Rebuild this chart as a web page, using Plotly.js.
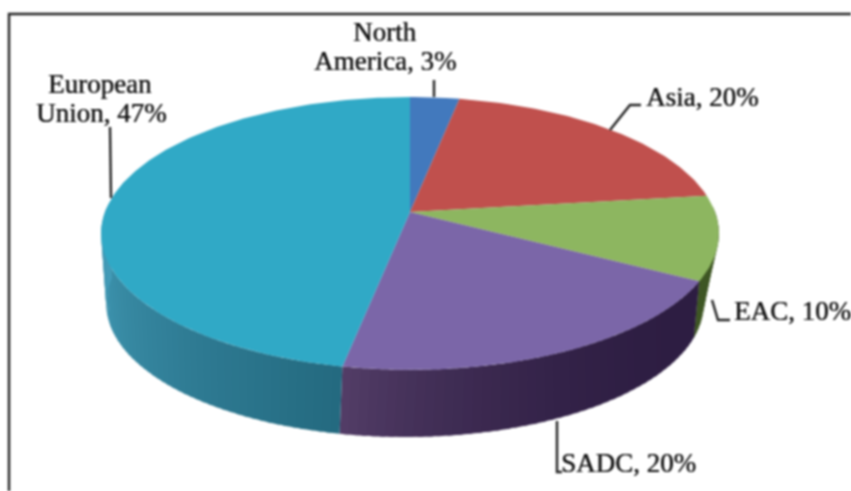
<!DOCTYPE html>
<html>
<head>
<meta charset="utf-8">
<script src="https://cdn.plot.ly/plotly-3.0.1.min.js"></script>
<style>
html,body{margin:0;padding:0;background:#fff;overflow:hidden}
#chart{width:851px;height:491px;filter:blur(0.9px)}
</style>
</head>
<body>
<div id="chart"></div>
<script>
var categories = ["North America", "Asia", "EAC", "SADC", "European Union"];
var shares = [3, 20, 10, 20, 47];
var topColors = ["#4279bd", "#c0504d", "#8db660", "#7b66a8", "#30a9c6"];
// side wall shade: [start, end] colour of each slice along the sweep, and how fast it moves
var sideColors = [
  [[38,72,112],[38,72,112]],
  [[115,48,46],[115,48,46]],
  [[62,86,36],[62,86,36]],
  [[45,29,66],[84,62,104]],
  [[36,106,128],[68,158,186]]
];
var sideCurve = [1, 1, 1, 2.6, 1];
var labelLines = [["North", "America, 3%"], ["Asia, 20%"], ["EAC, 10%"], ["SADC, 20%"], ["European", "Union, 47%"]];

// perspective view of the disc
var K = 0.1575;
var TOP = {cx: 410, cy: 212, a: 305, b: 133, warp: 0};
var BOT = {cx: 405, cy: 282.7, a: 295, b: 130, warp: 8};
function project(face, deg) {
  var d = deg < 180 ? deg - face.warp * (180 - deg) / 90 : deg;
  var t = d * Math.PI / 180, u = Math.sin(t), v = -Math.cos(t), w = 1 - K * v;
  return [face.cx + face.a * u / w, face.cy + face.b * v / w];
}
function mix(c, f) {
  return "rgb(" + c[0].map(function (s, i) { return Math.round(s + (c[1][i] - s) * f); }).join(",") + ")";
}

var traces = [];
var total = shares.reduce(function (s, v) { return s + v; }, 0);
var start = 0, spans = [];
shares.forEach(function (v) { spans.push([start, start + v / total * 360]); start += v / total * 360; });

// side walls, back to front
var STEP = 1.5;
spans.forEach(function (sp, i) {
  var from = Math.max(sp[0], 88), to = Math.min(sp[1], 272);
  if (to <= from) return;
  for (var d = from; d < to; d += STEP) {
    var e = Math.min(d + STEP + 0.8, to), xs = [], ys = [], q;
    q = project(TOP, d); xs.push(q[0]); ys.push(q[1]);
    q = project(TOP, e); xs.push(q[0]); ys.push(q[1]);
    q = project(BOT, e); xs.push(q[0]); ys.push(q[1]);
    q = project(BOT, d); xs.push(q[0]); ys.push(q[1]);
    traces.push({type: "scatter", mode: "lines", x: xs, y: ys, fill: "toself",
      fillcolor: mix(sideColors[i], Math.pow((d - from) / (to - from), sideCurve[i])), line: {width: 0},
      hoverinfo: "skip", showlegend: false});
  }
});

// top faces
spans.forEach(function (sp, i) {
  var xs = [TOP.cx], ys = [TOP.cy], n = Math.ceil(sp[1] - sp[0]);
  for (var j = 0; j <= n; j++) {
    var q = project(TOP, sp[0] + (sp[1] - sp[0]) * j / n);
    xs.push(q[0]); ys.push(q[1]);
  }
  xs.push(TOP.cx); ys.push(TOP.cy);
  traces.push({type: "scatter", mode: "lines", x: xs, y: ys, fill: "toself", name: categories[i],
    fillcolor: topColors[i], line: {width: 0}, text: labelLines[i].join(" "),
    hoverinfo: "text", showlegend: false});
});

function leader(pts) {
  return {type: "path", xref: "x", yref: "y", layer: "above",
    path: pts.map(function (p, i) { return (i ? "L" : "M") + p[0] + "," + p[1]; }).join(" "),
    line: {color: "#222", width: 2.4}};
}
function label(i, line, x, y) {
  return {text: labelLines[i][line], x: x, y: y, xref: "x", yref: "y", showarrow: false, align: "center",
    font: {family: "Liberation Serif", size: 27, color: "#111", shadow: "0.4px 0 0.6px #222"},
    xanchor: "center", yanchor: "middle"};
}

Plotly.newPlot("chart", traces, {
  width: 851, height: 491, margin: {l: 0, r: 0, t: 0, b: 0},
  paper_bgcolor: "#fff", plot_bgcolor: "#fff", showlegend: false,
  xaxis: {range: [0, 851], visible: false, fixedrange: true},
  yaxis: {range: [491, 0], visible: false, fixedrange: true},
  shapes: [
    leader([[9, 491], [9, 14], [851, 14]]),
    leader([[110, 127], [111, 198]]),
    leader([[434, 80], [434, 97]]),
    leader([[610, 130], [630, 105], [641, 105]]),
    leader([[712, 300], [718, 320], [730, 320]]),
    leader([[557, 421], [557, 472], [562, 472]])
  ],
  annotations: [
    label(0, 0, 384, 32), label(0, 1, 385, 61), label(1, 0, 702, 97), label(2, 0, 792, 311),
    label(3, 0, 628, 463), label(4, 0, 100, 84), label(4, 1, 101, 113)
  ]
}, {displayModeBar: false});
</script>
</body>
</html>
